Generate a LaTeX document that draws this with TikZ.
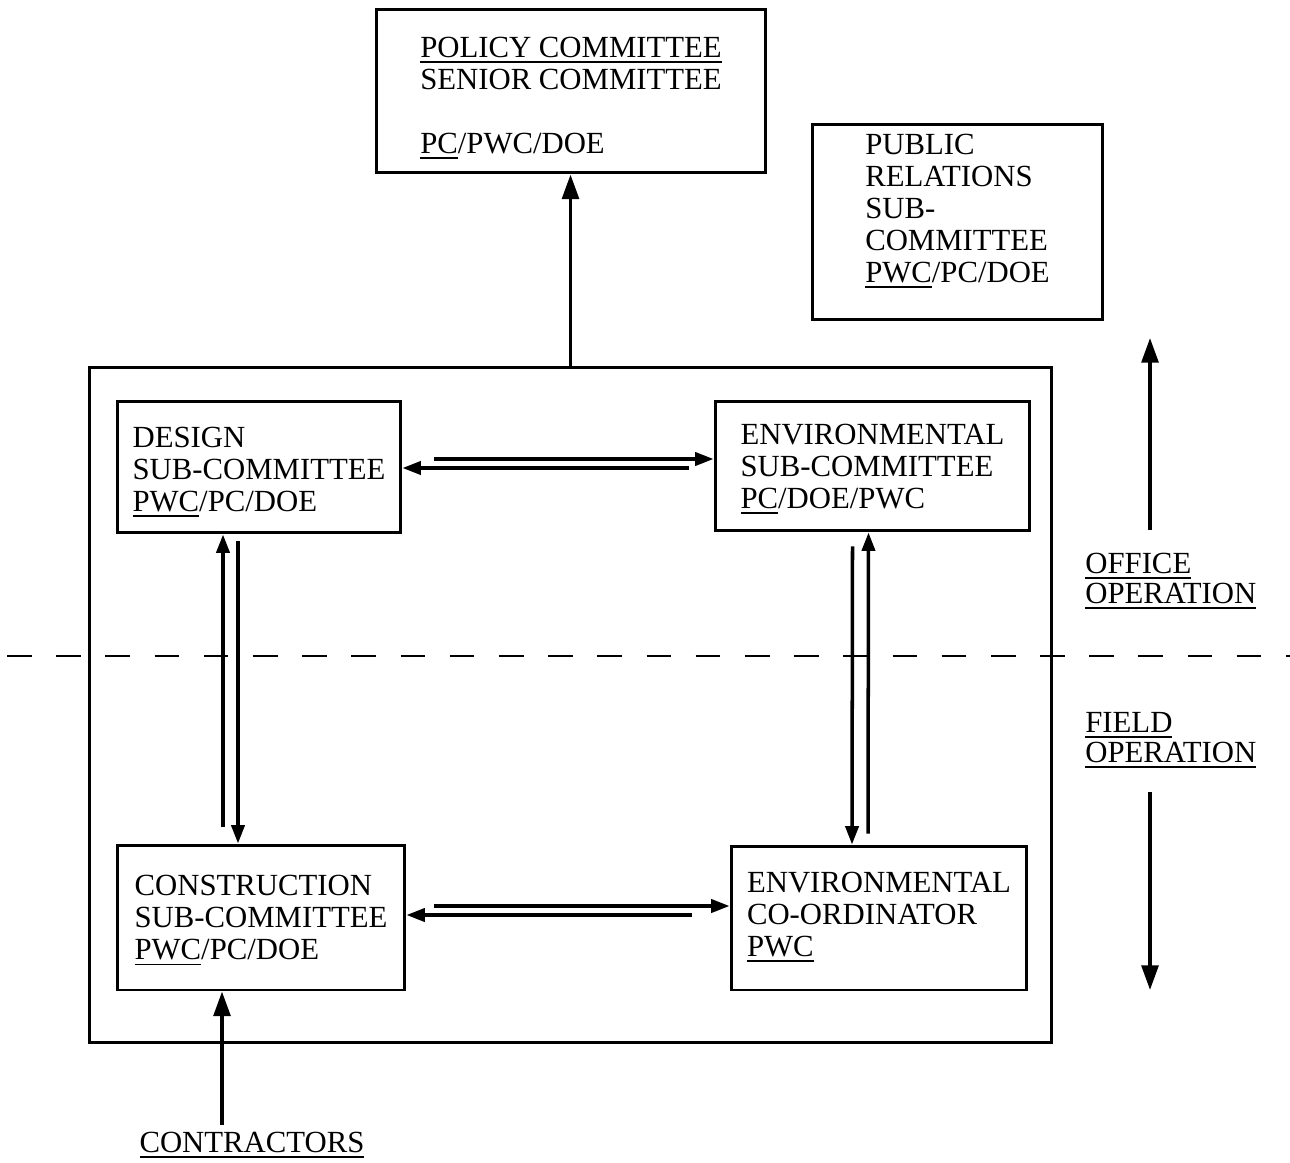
\documentclass[tikz,border=0pt]{standalone}
\usepackage{fontspec}
\setmainfont{Liberation Serif}
\usetikzlibrary{arrows.meta,calc}
% underline with a heavier rule set a little below the baseline
\newcommand\ulin[1]{\setbox0\hbox{#1}\rlap{\rule[-3.2pt]{\wd0}{0.9pt}}\box0}
% invisible strut that lowers a text block inside its frame
\newcommand\lowr[1]{\rule{0pt}{#1}}
\begin{document}
\begin{tikzpicture}[x=0.02cm,y=-0.02cm,
  box/.style={draw,line width=1.7pt,rectangle,inner sep=0pt,align=left,
    font=\fontsize{17.5}{18.2}\selectfont},
  lbl/.style={inner sep=0pt,align=left,font=\fontsize{17.5}{17}\selectfont},
  big/.style={line width=2.1pt,-{Triangle[length=14pt,width=9.5pt]}},
  sm/.style={line width=2pt,-{Triangle[length=10.5pt,width=7.5pt]}},
  divider/.style={line width=1.6pt,dash pattern=on 14pt off 14pt}]
\useasboundingbox (0,0) rectangle (1290,1162);

% office / field divider
\draw[divider] (7,656) -- (1290,656);

% committees
\node[box,minimum width=7.8cm,minimum height=3.28cm,text depth=0pt] (policy) at (571,91)
  {\lowr{16.4pt}\ulin{POLICY COMMITTEE}\\SENIOR COMMITTEE\\[18.2pt]\ulin{PC}/PWC/DOE};
\node[box,minimum width=5.82cm,minimum height=3.92cm,text depth=15.6pt] (pr) at (957.5,222)
  {PUBLIC\\RELATIONS\\SUB-\\COMMITTEE\\\ulin{PWC}/PC/DOE};
\node[draw,line width=1.7pt,rectangle,minimum width=19.26cm,minimum height=13.52cm] (outer) at (570.5,705) {};
\node[box,minimum width=5.68cm,minimum height=2.64cm,text depth=0pt] (design) at (259,467)
  {\lowr{14pt}DESIGN\\SUB-COMMITTEE\\\ulin{PWC}/PC/DOE};
\node[box,minimum width=6.3cm,minimum height=2.6cm,text depth=0pt] (envsub) at (872.5,466)
  {ENVIRONMENTAL\\SUB-COMMITTEE\\\ulin{PC}/DOE/PWC};
\node[box,minimum width=5.76cm,minimum height=2.9cm,text depth=0pt] (constr) at (261,917.5)
  {CONSTRUCTION\\SUB-COMMITTEE\\\ulin{PWC}/PC/DOE};
\node[box,minimum width=5.92cm,minimum height=2.88cm,text depth=4.3pt] (coord) at (879,918)
  {ENVIRONMENTAL\\CO-ORDINATOR\\\ulin{PWC}};

% side labels
\node[lbl,anchor=west] (office) at (1085,581) {\ulin{OFFICE}\\\ulin{OPERATION}};
\node[lbl,anchor=west] (field) at (1085,740) {\ulin{FIELD}\\\ulin{OPERATION}};
\node[lbl] (contr) at (252,1145) {\ulin{CONTRACTORS}};

% reporting line to the policy committee
\draw[big] (outer.north) -- (outer.north |- policy.south);

% design <-> environmental sub-committee
\draw[sm] ($(design.east)+(32,-8)$) -- ($(envsub.west |- design.east)+(0,-8)$);
\draw[sm] ($(envsub.west |- design.east)+(-25,1)$) -- ($(design.east)+(0,1)$);

% construction <-> environmental co-ordinator
\draw[sm] ($(constr.east)+(28,-11.5)$) -- ($(coord.west |- constr.east)+(0,-11.5)$);
\draw[sm] ($(coord.west |- constr.east)+(-38,-2.5)$) -- ($(constr.east)+(0,-2.5)$);

% design <-> construction
\draw[sm] ($(constr.north)+(-38,-17)$) -- ($(design.south)+(-36,0)$);
\draw[sm] ($(design.south)+(-21,7)$) -- ($(constr.north)+(-23,0)$);

% environmental sub-committee <-> co-ordinator
\draw[sm] ($(envsub.south)+(-20,14)$) -- ($(coord.north)+(-27,0)$);
\draw[sm] ($(coord.north)+(-11,-11)$) -- ($(envsub.south)+(-4,0)$);

% office / field direction arrows
\coordinate (upS) at (1150,530);
\coordinate (upE) at (1150,338);
\coordinate (dnS) at (1150,792);
\coordinate (dnE) at (1150,990);
\draw[big] (upS) -- (upE);
\draw[big] (dnS) -- (dnE);

% contractors feed the construction sub-committee
\draw[big] ($(contr.north)+(-30,-7)$) -- ($(constr.south)+(-39,0)$);
\end{tikzpicture}
\end{document}
